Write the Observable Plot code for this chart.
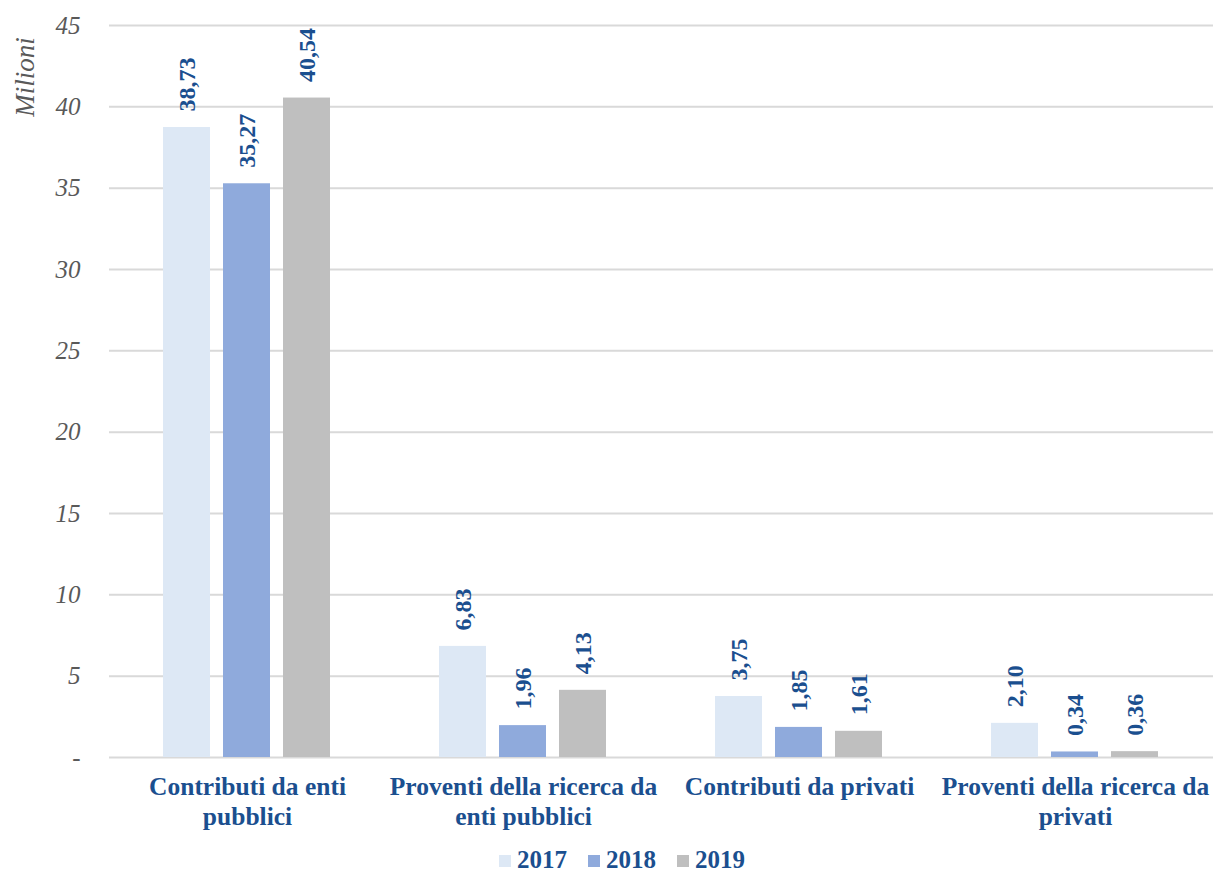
<!DOCTYPE html>
<html><head><meta charset="utf-8">
<script src="https://cdn.jsdelivr.net/npm/d3@7"></script>
<script src="https://cdn.jsdelivr.net/npm/@observablehq/plot@0.6"></script>
<style>
body{margin:0;background:#fff;}
#wrap{position:relative;width:1213px;height:871px;}
#wrap svg{position:absolute;left:0;top:0;}
#ylab{position:absolute;z-index:2;left:25px;top:77px;transform:translate(-50%,-50%) rotate(-90deg);font-style:italic;font-size:27px;color:#595959;white-space:nowrap;}
#legend{position:absolute;z-index:2;top:846px;left:0;width:1213px;text-align:center;font-weight:bold;font-size:25px;color:#1b4f8f;padding-left:31px;box-sizing:border-box;}
#legend span.item{margin:0 10.5px;white-space:nowrap;}
#legend span.sw{display:inline-block;width:12px;height:12px;margin-right:6px;vertical-align:1px;}
</style></head>
<body><div id="wrap"><div id="ylab" style="font-family:'Liberation Serif'">Milioni</div><div id="legend" style="font-family:'Liberation Serif'"></div></div>
<script>
const categories = ["Contributi da enti pubblici","Proventi della ricerca da enti pubblici","Contributi da privati","Proventi della ricerca da privati"];
const categoryLabels = ["Contributi da enti\npubblici","Proventi della ricerca da\nenti pubblici","Contributi da privati","Proventi della ricerca da\nprivati"];
const years = ["2017","2018","2019"];
const values2017 = [38.73, 6.83, 3.75, 2.10];
const values2018 = [35.27, 1.96, 1.85, 0.34];
const values2019 = [40.54, 4.13, 1.61, 0.36];
const colors = ["#dde8f5","#8faadc","#bfbfbf"];
const yTicks = [0,5,10,15,20,25,30,35,40,45];

const series = [values2017, values2018, values2019];
const data = [];
categories.forEach((c,i)=>years.forEach((y,j)=>data.push({cat:c, year:y, value:series[j][i]})));
const labelOf = Object.fromEntries(categories.map((c,i)=>[c,categoryLabels[i]]));
const blue = "#1b4f8f";
const FONT = "Liberation Serif";

const chart = Plot.plot({
  width: 1213, height: 840,
  marginLeft: 109, marginRight: 0, marginTop: 25, marginBottom: 83,
  style: {fontFamily: FONT, background: "white"},
  fx: {domain: categories, padding: 0, label: null},
  x: {domain: years, paddingInner: 0.21, paddingOuter: 0.87, axis: null},
  y: {domain: [0,45], label: null},
  color: {domain: years, range: colors},
  marks: [
    Plot.gridY(yTicks, {stroke: "#d9d9d9", strokeOpacity: 1, strokeWidth: 2}),
    Plot.barY(data, {fx: "cat", x: "year", y: "value", fill: "year"}),
    Plot.text(data, {fx: "cat", x: "year", y: "value", text: d => d.value.toFixed(2).replace(".", ","),
      rotate: -90, textAnchor: "start", dy: -16, fill: blue, fontWeight: "bold", fontSize: 24, fontFamily: FONT}),
    Plot.axisY(yTicks, {tickSize: 0, tickPadding: 29, fontSize: 25, fontStyle: "italic", fill: "#595959", fontFamily: FONT,
      tickFormat: d => d === 0 ? "-" : String(d), label: null}),
    Plot.axisFx({anchor: "bottom", tickSize: 0, tickPadding: 17, fontSize: 25.5, fontWeight: "bold", fill: blue, fontFamily: FONT,
      lineHeight: 1.15, tickFormat: d => labelOf[d], label: null})
  ]
});
document.getElementById("wrap").insertBefore(chart, document.getElementById("ylab"));
d3.select(chart).selectAll("text").style("font-family", FONT);

const legend = document.getElementById("legend");
years.forEach((y,i)=>{
  const it = document.createElement("span"); it.className = "item";
  const sw = document.createElement("span"); sw.className = "sw"; sw.style.background = colors[i];
  it.appendChild(sw); it.appendChild(document.createTextNode(y));
  legend.appendChild(it);
});
</script></body></html>
